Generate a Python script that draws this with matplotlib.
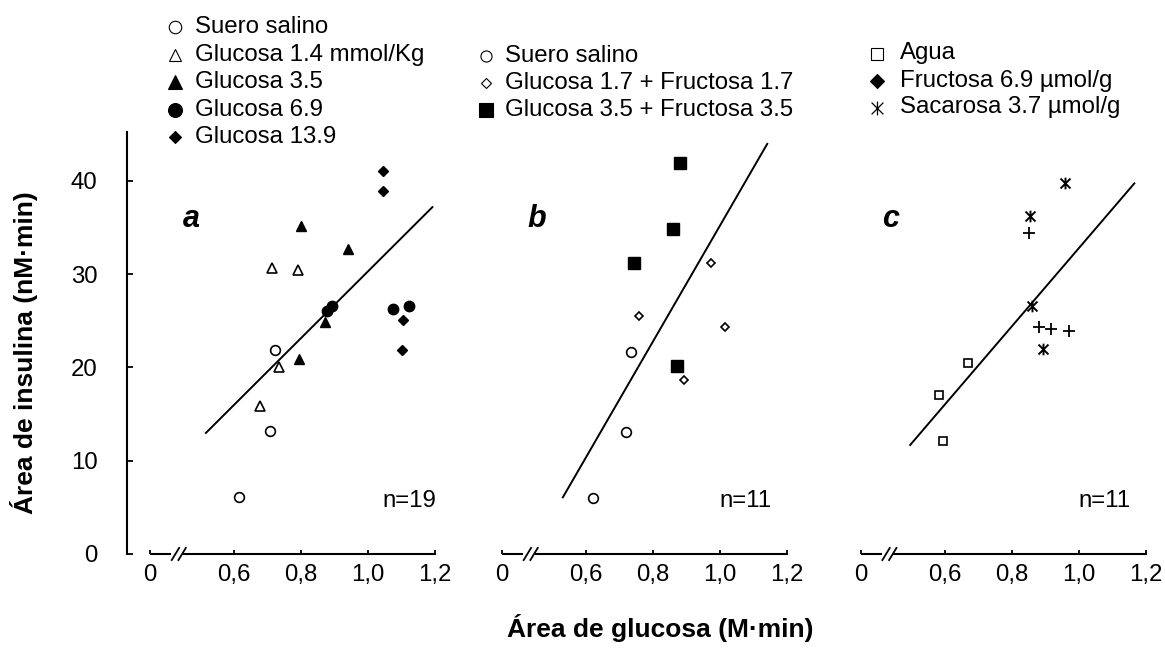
"""
Relación entre área de glucosa y área de insulina en tres experimentos
(a: glucosa, b: glucosa + fructosa, c: fructosa / sacarosa).
"""

import numpy as np
import matplotlib
matplotlib.use("Agg")
import matplotlib.pyplot as plt
from matplotlib.path import Path

plt.rcParams["font.family"] = ["Liberation Sans", "DejaVu Sans"]

# --- panel a -------------------------------------------------------------
a_labels = ["Suero salino", "Glucosa 1.4 mmol/Kg", "Glucosa 3.5", "Glucosa 6.9", "Glucosa 13.9"]
a_salino_x = [0.615, 0.707, 0.722]
a_salino_y = [6.1, 13.2, 21.9]
a_g14_x = [0.676, 0.713, 0.735, 0.790]
a_g14_y = [15.9, 30.6, 20.0, 30.4]
a_g35_x = [0.794, 0.800, 0.870, 0.941]
a_g35_y = [20.9, 35.2, 24.9, 32.7]
a_g69_x = [0.877, 0.892, 1.073, 1.122]
a_g69_y = [26.0, 26.6, 26.3, 26.6]
a_g139_x = [1.046, 1.046, 1.100, 1.105]
a_g139_y = [41.0, 38.9, 21.9, 25.1]
a_fit = (35.8, -5.5, 0.516, 1.192)  # pendiente, ordenada, x inicial, x final
a_n = "n=19"

# --- panel b -------------------------------------------------------------
b_labels = ["Suero salino", "Glucosa 1.7 + Fructosa 1.7", "Glucosa 3.5 + Fructosa 3.5"]
b_salino_x = [0.620, 0.718, 0.735]
b_salino_y = [6.0, 13.1, 21.7]
b_gf17_x = [0.759, 0.893, 0.973, 1.016]
b_gf17_y = [25.5, 18.6, 31.2, 24.3]
b_gf35_x = [0.744, 0.859, 0.871, 0.881]
b_gf35_y = [31.2, 34.8, 20.1, 41.9]
b_fit = (62.1, -26.9, 0.531, 1.141)
b_n = "n=11"

# --- panel c -------------------------------------------------------------
c_labels = ["Agua", "Fructosa 6.9 µmol/g", "Sacarosa 3.7 µmol/g"]
c_agua_x = [0.583, 0.594, 0.670]
c_agua_y = [17.0, 12.1, 20.5]
c_fruc_x = [0.851, 0.882, 0.916, 0.970]
c_fruc_y = [34.4, 24.3, 24.1, 23.9]
c_sac_x = [0.855, 0.862, 0.894, 0.959]
c_sac_y = [36.2, 26.6, 22.0, 39.8]
c_fit = (41.9, -9.14, 0.497, 1.166)
c_n = "n=11"

x_ticks = [0.6, 0.8, 1.0, 1.2]
x_ticklabels = ["0,6", "0,8", "1,0", "1,2"]
y_ticks = [0, 10, 20, 30, 40]

ZERO_POS = 0.35   # donde se dibuja el "0" del eje x cortado
FS = 17.3

# asterisco de seis brazos (vertical + aspa)
ASTER = Path([(0, -1), (0, 1), (-0.85, -0.85), (0.85, 0.85), (-0.85, 0.85), (0.85, -0.85)],
             [Path.MOVETO, Path.LINETO] * 3)

OPEN = dict(markerfacecolor="white", markeredgecolor="black", markeredgewidth=1.2)
FILL = dict(markerfacecolor="black", markeredgecolor="black", markeredgewidth=1.0)


def draw_panel(ax, series, fit, letter, letter_x, n_text, n_x, with_y_axis):
    for xs, ys, style in series:
        ax.plot(xs, ys, linestyle="none", color="black", clip_on=False, **style)

    slope, intercept, x0, x1 = fit
    xl = np.array([x0, x1])
    ax.plot(xl, slope * xl + intercept, color="black", lw=1.4, zorder=1)

    ax.set_xlim(0.27, 1.22)
    ax.set_ylim(0, 46)
    ax.patch.set_visible(False)
    for side in ("top", "right"):
        ax.spines[side].set_visible(False)

    # eje x cortado: tramo corto desde el 0, dos barras y el resto del eje
    ax.spines["bottom"].set_bounds(0.45, 1.2)
    ax.spines["bottom"].set_linewidth(1.5)
    ax.plot([ZERO_POS, 0.413], [0, 0], color="black", lw=1.5, clip_on=False,
            solid_capstyle="butt")
    for xc in (0.425, 0.445):
        ax.plot([xc - 0.011, xc + 0.011], [-0.65, 0.65], color="black", lw=1.3,
                clip_on=False)
    ax.set_xticks([ZERO_POS] + x_ticks)
    ax.set_xticklabels(["0"] + x_ticklabels)
    ax.tick_params(axis="x", direction="in", length=3.2, width=1.3, pad=7, labelsize=FS)

    if with_y_axis:
        ax.spines["left"].set_position(("data", 0.28))
        ax.spines["left"].set_bounds(0, 45.2)
        ax.spines["left"].set_linewidth(1.5)
        ax.set_yticks(y_ticks)
        ax.tick_params(axis="y", direction="in", length=4, width=1.3, pad=21, labelsize=FS)
    else:
        ax.spines["left"].set_visible(False)
        ax.set_yticks([])

    ax.text(letter_x, 35, letter, fontsize=22, fontweight="bold", style="italic",
            va="baseline")
    ax.text(n_x, 5.0, n_text, fontsize=FS, ha="right", va="baseline")


def draw_legend(ov, x_marker, x_text, y0, dy, entries):
    for i, (style, label) in enumerate(entries):
        y = y0 + i * dy
        ov.plot([x_marker], [y], linestyle="none", color="black", **style)
        ov.text(x_text, y, label, fontsize=FS, va="center", ha="left")


fig = plt.figure(figsize=(11.65, 6.56), dpi=100)
W, H = 1165, 656

panel_left = [0.1060, 0.4081, 0.7160]
axes = [fig.add_axes([l, 0.1555, 0.2732, 0.6543]) for l in panel_left]

draw_panel(axes[0], [
    (a_salino_x, a_salino_y, dict(marker="o", ms=7, **OPEN)),
    (a_g14_x, a_g14_y, dict(marker="^", ms=7, **OPEN)),
    (a_g35_x, a_g35_y, dict(marker="^", ms=7.5, **FILL)),
    (a_g69_x, a_g69_y, dict(marker="o", ms=7.5, **FILL)),
    (a_g139_x, a_g139_y, dict(marker="D", ms=5, **FILL)),
], a_fit, "a", 0.448, a_n, 1.205, True)

draw_panel(axes[1], [
    (b_salino_x, b_salino_y, dict(marker="o", ms=7, **OPEN)),
    (b_gf17_x, b_gf17_y, dict(marker="D", ms=4.3, **OPEN)),
    (b_gf35_x, b_gf35_y, dict(marker="s", ms=8, **FILL)),
], b_fit, "b", 0.424, b_n, 1.155, False)

draw_panel(axes[2], [
    (c_agua_x, c_agua_y, dict(marker="s", ms=5.8, **OPEN)),
    (c_fruc_x, c_fruc_y, dict(marker="+", ms=8, markeredgewidth=1.3)),
    (c_sac_x, c_sac_y, dict(marker=ASTER, ms=8.4, markerfacecolor="none",
                            markeredgewidth=1.4)),
], c_fit, "c", 0.412, c_n, 1.156, False)

# capa en píxeles para leyendas y títulos de ejes
ov = fig.add_axes([0, 0, 1, 1])
ov.set_xlim(0, W)
ov.set_ylim(H, 0)
ov.axis("off")

LOPEN = dict(markerfacecolor="white", markeredgecolor="black", markeredgewidth=0.8)
LFILL = dict(markerfacecolor="black", markeredgecolor="black", markeredgewidth=0.8)

draw_legend(ov, 175, 195, 27, 27.5, list(zip([
    dict(marker="o", ms=9, **LOPEN),
    dict(marker="^", ms=9, **LOPEN),
    dict(marker="^", ms=9.5, **LFILL),
    dict(marker="o", ms=10, **LFILL),
    dict(marker="D", ms=6.5, **LFILL),
], a_labels)))

draw_legend(ov, 486, 505, 56, 27, list(zip([
    dict(marker="o", ms=8, **LOPEN),
    dict(marker="D", ms=5.5, **LOPEN),
    dict(marker="s", ms=9.5, **LFILL),
], b_labels)))

draw_legend(ov, 877, 900, 53.5, 27, list(zip([
    dict(marker="s", ms=9, **LOPEN),
    dict(marker="D", ms=7, **LFILL),
    dict(marker=ASTER, ms=10, markerfacecolor="none", markeredgewidth=0.9),
], c_labels)))

ov.text(24, 353, "Área de insulina (nM·min)", rotation=90, fontsize=19,
        fontweight="bold", ha="center", va="center")
ov.text(660, 628, "Área de glucosa (M·min)", fontsize=19,
        fontweight="bold", ha="center", va="center")

fig.savefig("out.png", dpi=100)
plt.close(fig)
